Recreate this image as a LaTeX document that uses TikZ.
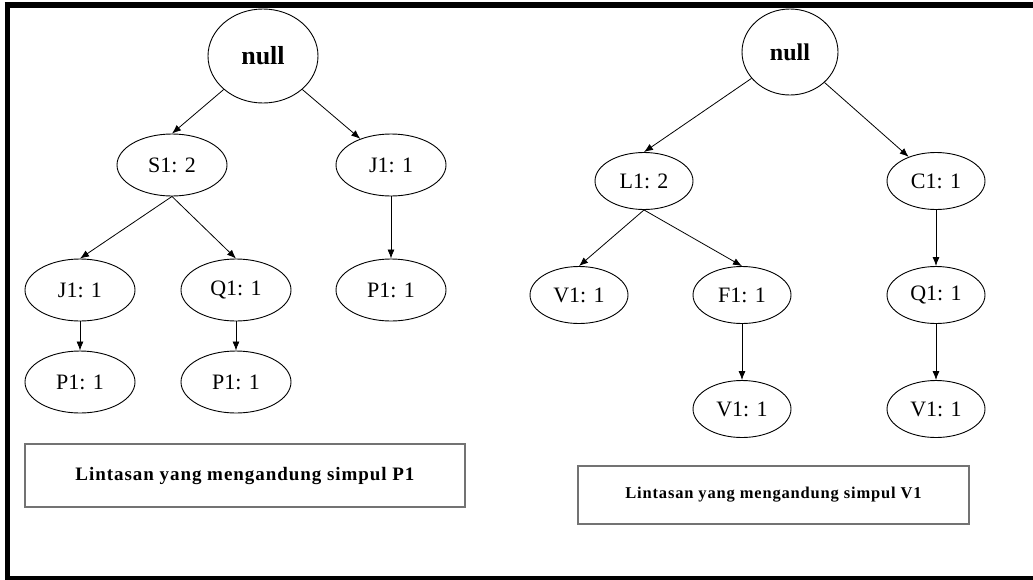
\documentclass[tikz,border=0pt]{standalone}
\usepackage{fontspec}
\setmainfont{Liberation Serif}
\newfontfamily\lblfont[LetterSpace=5]{Liberation Serif}
\usetikzlibrary{shapes.geometric,arrows.meta}
\begin{document}
\begin{tikzpicture}[x=1pt,y=-1pt,
  nd/.style={ellipse,draw=black,line width=0.9pt,inner sep=0pt,minimum width=110pt,minimum height=62pt,font=\fontsize{22}{22}\selectfont},
  ndr/.style={nd,minimum width=98pt,minimum height=57pt},
  rootl/.style={nd,minimum width=110pt,minimum height=94pt,font=\fontsize{26}{26}\selectfont\bfseries},
  rootr/.style={nd,minimum width=96pt,minimum height=86pt,font=\fontsize{24}{24}\selectfont\bfseries},
  edge/.style={line width=0.8pt,-{Latex[length=9pt,width=7pt]}},
  lbl/.style={draw=black!55,line width=1.6pt,inner sep=0pt,font=\lblfont\bfseries}
]
\useasboundingbox (0,0) rectangle (1033,579);
\fill[white] (0,0) rectangle (1033,579);
% frame
\draw[line width=6pt] (4.5,5) -- (1033,5);
\draw[line width=5pt] (7.5,2) -- (7.5,579);
\draw[line width=4pt] (5,578) -- (1033,578);
% left tree
\node[rootl] (n0) at (263,56) {null};
\node[nd] (s1) at (172,165) {S1: 2};
\node[nd] (j1a) at (391,165) {J1: 1};
\node[nd] (j1b) at (80,290) {J1: 1};
\node[nd] (q1a) at (236,290) {Q1: 1};
\node[nd] (p1a) at (391,290) {P1: 1};
\node[nd] (p1b) at (80,382) {P1: 1};
\node[nd] (p1c) at (236,382) {P1: 1};
\draw[edge] (n0) -- (s1.north);
\draw[edge] (n0) -- (j1a);
\draw[edge] (s1.south) -- (j1b.north);
\draw[edge] (s1.south) -- (q1a.north);
\draw[edge] (j1a) -- (p1a);
\draw[edge] (j1b) -- (p1b);
\draw[edge] (q1a) -- (p1c);
\node[lbl,minimum width=440pt,minimum height=63pt,font=\lblfont\bfseries\fontsize{19}{19}\selectfont] (b1) at (245,475.5) {Lintasan yang mengandung simpul P1};
% right tree
\node[rootr] (m0) at (790,52) {null};
\node[ndr] (l1) at (644,181) {L1: 2};
\node[ndr] (c1) at (936,181) {C1: 1};
\node[ndr] (v1a) at (579,295) {V1: 1};
\node[ndr] (f1) at (742,295) {F1: 1};
\node[ndr] (q1b) at (936,295) {Q1: 1};
\node[ndr] (v1b) at (742,409) {V1: 1};
\node[ndr] (v1c) at (936,409) {V1: 1};
\draw[edge] (m0) -- (l1.north);
\draw[edge] (m0) -- (c1);
\draw[edge] (l1.south) -- (v1a.north);
\draw[edge] (l1.south) -- (f1.north);
\draw[edge] (c1) -- (q1b);
\draw[edge] (f1) -- (v1b);
\draw[edge] (q1b) -- (v1c);
\node[lbl,minimum width=391pt,minimum height=58pt,font=\lblfont\bfseries\fontsize{16.5}{16.5}\selectfont] (b2) at (773.5,495) {Lintasan yang mengandung simpul V1};
\end{tikzpicture}
\end{document}
